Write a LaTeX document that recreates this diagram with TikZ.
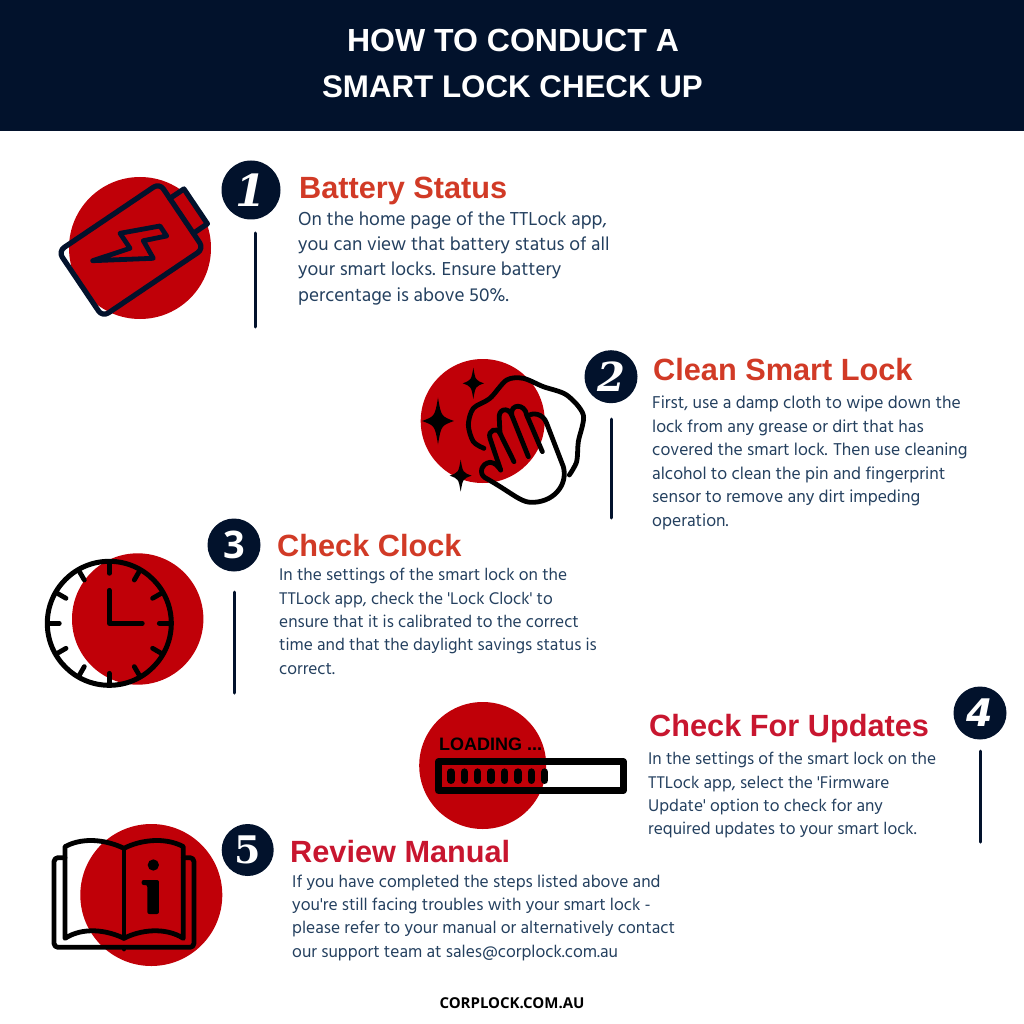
\documentclass[tikz,border=0pt]{standalone}
\usepackage{fontspec}
\setmainfont{Hind Madurai}
\newfontfamily\titlefont{Liberation Sans}
\newfontfamily\footfont{Open Sans}
\newfontfamily\serifnum{DejaVu Serif}
\newfontfamily\sansnum{DejaVu Sans}
\newcommand{\sized}[2]{\fontsize{#1}{#2}\selectfont}
\newcommand{\sq}{\textquotesingle}
\definecolor{navy}{HTML}{02122C}
\definecolor{bodyblue}{HTML}{24405F}
\definecolor{disc}{HTML}{C00008}
\definecolor{headred}{HTML}{D13A26}
\definecolor{headcrimson}{HTML}{C8162F}

\begin{document}
\begin{tikzpicture}[x=1pt,y=-1pt]
	\tikzstyle{titletext}=[text=white,anchor=base,inner sep=0];
	\tikzstyle{headtext}=[anchor=base west,inner sep=0,font=\titlefont\bfseries\sized{30.7}{32}];
	\tikzstyle{bodytext}=[anchor=north west,inner sep=0,align=left,text=bodyblue];
	\tikzstyle{numdisc}=[circle,fill=navy,text=white,inner sep=0];
	\tikzstyle{stem}=[draw=navy,line width=3pt,line cap=round];
	\tikzstyle{iconline}=[line width=4.8pt,line join=round,line cap=round];
	\tikzstyle{zoomed}=[x=0.3333pt,y=-0.3333pt];

	\useasboundingbox (0,0) rectangle (1024,1024);
	\fill[navy] (0,0) rectangle (1024,131);
	\node[titletext,font=\titlefont\bfseries\sized{32}{32}] (title1) at (513,52) {HOW TO CONDUCT A};
	\node[titletext,font=\titlefont\bfseries\sized{31.3}{32}] (title2) at (512.5,97.5) {SMART LOCK CHECK UP};

	% battery
	\fill[disc] (140,248) circle (71);
	\begin{scope}[shift={(131,250)},rotate=34,iconline,draw=navy]
		\draw[navy,line width=5.2pt,rounded corners=7pt] (-61,-39.5) rectangle (61,39.5);
		\draw[navy,line width=5.2pt] (61,-21) -- (78,-21) -- (78,21) -- (61,21);
	\end{scope}
	\draw[navy,iconline] (120,233.3) -- (160,226) -- (166.7,236) -- (143.3,240.7) -- (153.3,258.3) -- (92.7,260.7) -- (130,248.3) -- cycle;

	\node[numdisc,minimum size=59pt,font=\serifnum\bfseries\itshape\sized{44}{44}] (num1) at (251,190) {1};
	\coordinate (top1) at (255,233);
	\coordinate (end1) at (255,327);
	\draw[stem] (top1) -- (end1);
	\node[headtext,text=headred] (head1) at (299,199) {Battery Status};
	\node[bodytext,font=\sized{19.2}{25.2}] (body1) at (298,211.5) {On the home page of the TTLock app,\\you can view that battery status of all\\your smart locks. Ensure battery\\percentage is above 50\%.};

	% cloth and hand
	\fill[disc] (482.7,421) circle (62);
	\begin{scope}[shift={(410,345)},zoomed]
		\foreach \sx/\sy/\sw/\sh in {84/228/48/70,190/115/32/47,152/392/33/48}
			\fill ({\sx},{\sy-\sh}) .. controls ({\sx+0.2*\sw},{\sy-0.2*\sh}) .. ({\sx+\sw},{\sy})
				.. controls ({\sx+0.2*\sw},{\sy+0.2*\sh}) .. ({\sx},{\sy+\sh})
				.. controls ({\sx-0.2*\sw},{\sy+0.2*\sh}) .. ({\sx-\sw},{\sy})
				.. controls ({\sx-0.2*\sw},{\sy-0.2*\sh}) .. cycle;
		\draw[iconline] plot[smooth] coordinates {(222,310) (190,290) (175,240) (190,190) (240,160) (290,105) (340,100) (400,125) (470,150) (520,210) (505,290) (500,350) (478,390)};
		\draw[iconline] (272,375) -- (240,280) .. controls (232,255) and (262,245) .. (270,265) -- (312,350);
		\draw[iconline] (270,265) -- (268,225) .. controls (262,190) and (295,185) .. (305,210) -- (355,335);
		\draw[iconline] (305,210) .. controls (300,175) and (345,175) .. (350,210) -- (397,320);
		\draw[iconline] (352,215) .. controls (365,200) and (400,205) .. (410,235) -- (460,365) .. controls (475,420) and (430,475) .. (360,472) .. controls (330,470) and (300,440) .. (225,398) .. controls (205,385) and (215,355) .. (240,352) .. controls (255,352) and (265,365) .. (272,375);
	\end{scope}

	\node[numdisc,minimum size=53pt,font=\serifnum\bfseries\itshape\sized{40}{40}] (num2) at (611,376.7) {2};
	\coordinate (top2) at (611,419);
	\coordinate (end2) at (611,518);
	\draw[stem] (top2) -- (end2);
	\node[headtext,text=headred] (head2) at (653,380) {Clean Smart Lock};
	\node[bodytext,font=\sized{17.6}{23.5}] (body2) at (652,396) {First, use a damp cloth to wipe down the\\lock from any grease or dirt that has\\covered the smart lock. Then use cleaning\\alcohol to clean the pin and fingerprint\\sensor to remove any dirt impeding\\operation.};

	% clock
	\fill[disc] (137.7,619) circle (65.7);
	\begin{scope}[shift={(109.3,623.3)}]
		\draw[line width=5pt] (0,0) circle (62);
		\foreach \a in {0,30,...,330}
			\draw[line width=4.8pt,line cap=round] (\a:60) -- (\a:50);
		\draw[iconline] (0,-33) -- (0,0) -- (33,0);
	\end{scope}

	\node[numdisc,minimum size=53pt,font=\footfont\bfseries\sized{38}{38}] (num3) at (234,545) {3};
	\coordinate (top3) at (234,592);
	\coordinate (end3) at (234,693);
	\draw[stem] (top3) -- (end3);
	\node[headtext,text=headred] (head3) at (277,556) {Check Clock};
	\node[bodytext,font=\sized{17.35}{23.4}] (body3) at (279,568) {In the settings of the smart lock on the\\TTLock app, check the \sq Lock Clock\sq{} to\\ensure that it is calibrated to the correct\\time and that the daylight savings status is\\correct.};

	% loading bar
	\fill[disc] (482.7,765.5) circle (63.5);
	\node[anchor=base west,inner sep=0,font=\titlefont\bfseries\sized{18}{18},text=black] (loading) at (439,750.5) {LOADING ...};
	\begin{scope}[shift={(410,690)},zoomed]
		\draw[line width=6.5pt,line join=round] (85,215) rectangle (640,302);
		\foreach \px in {123,163,203,243,284,324,364,404}
			\draw[line width=7.3pt,line cap=round] (\px,246) -- (\px,271);
	\end{scope}

	\node[numdisc,minimum size=53pt,font=\sansnum\bfseries\itshape\sized{38}{38}] (num4) at (980,713) {4};
	\coordinate (top4) at (980,751);
	\coordinate (end4) at (980,842);
	\draw[stem] (top4) -- (end4);
	\node[headtext,text=headcrimson] (head4) at (649,736) {Check For Updates};
	\node[bodytext,font=\sized{17.35}{23.4}] (body4) at (648,752) {In the settings of the smart lock on the\\TTLock app, select the \sq Firmware\\Update\sq{} option to check for any\\required updates to your smart lock.};

	% book
	\fill[disc] (151.3,895) circle (71);
	\begin{scope}[shift={(40,815)},zoomed]
		\draw[iconline,rounded corners=4pt] (75,128) -- (42,128) -- (42,397) -- (462,397) -- (462,128) -- (430,128);
		\draw[iconline] (75,95) .. controls (130,65) and (200,75) .. (252,100) .. controls (300,75) and (375,65) .. (430,95) -- (430,370) .. controls (375,335) and (300,345) .. (252,370) .. controls (200,345) and (130,335) .. (75,370) -- cycle;
		\draw[iconline] (252,100) -- (252,370);
		\draw[iconline] (252,397) -- (252,402);
		\fill (340,150) circle (17);
		\fill[rounded corners=2pt] (305,195) -- (357,195) -- (357,297) -- (322,297) -- (322,210) -- (305,210) -- cycle;
	\end{scope}

	\node[numdisc,minimum size=52pt,font=\serifnum\bfseries\sized{38}{38}] (num5) at (247.7,850) {5};
	\node[headtext,text=headcrimson] (head5) at (290,862) {Review Manual};
	\node[bodytext,font=\sized{17.45}{23.1}] (body5) at (292,875) {If you have completed the steps listed above and\\you\sq re still facing troubles with your smart lock -\\please refer to your manual or alternatively contact\\our support team at sales@corplock.com.au};

	\node[inner sep=0,text=black,font=\footfont\bfseries\sized{15}{15}] (foot) at (512,1003) {CORPLOCK.COM.AU};
\end{tikzpicture}
\end{document}
